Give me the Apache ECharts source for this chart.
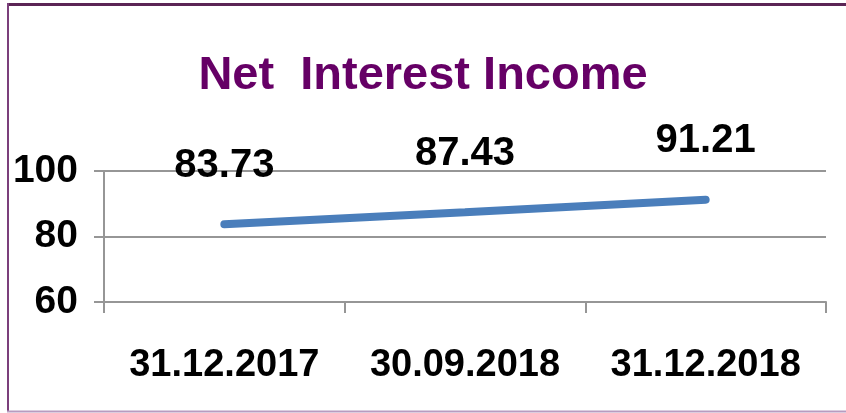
<!DOCTYPE html>
<html>
<head>
<meta charset="utf-8">
<script src="https://cdn.jsdelivr.net/npm/echarts@6/dist/echarts.min.js"></script>
<style>
	html, body { margin: 0; padding: 0; background: #fff; }
	#chart { width: 846px; height: 413px; }
</style>
</head>
<body>
<div id="chart"></div>
<script>
var categories = ['31.12.2017', '30.09.2018', '31.12.2018'];
var incomeValues = [83.73, 87.43, 91.21];
var yTicks = [60, 80, 100];

var fontName = "'Liberation Sans Narrow', 'Liberation Sans', sans-serif";
var fontWeight = 'bold condensed';
var gridColor = '#969696';

window.onload = function() {
	var chart = echarts.init(document.getElementById('chart'));
	var option = {
		animation: false,
		title: {
			text: 'Net  Interest Income',
			left: 'center',
			top: 48,
			textStyle: {
				fontFamily: fontName,
				fontSize: 47,
				fontWeight: fontWeight,
				color: '#660066'
			}
		},
		grid: {
			left: 104,
			right: 20,
			top: 171,
			bottom: 111
		},
		xAxis: {
			type: 'category',
			data: categories,
			boundaryGap: true,
			axisLine: { lineStyle: { color: gridColor, width: 2 } },
			axisTick: { show: true, length: 11, lineStyle: { color: gridColor, width: 2 } },
			axisLabel: {
				interval: 0,
				margin: 45,
				fontFamily: fontName,
				fontSize: 38,
				fontWeight: fontWeight,
				color: '#000'
			}
		},
		yAxis: {
			type: 'value',
			min: yTicks[0],
			max: yTicks[yTicks.length - 1],
			interval: yTicks[1] - yTicks[0],
			axisLine: { show: true, lineStyle: { color: gridColor, width: 2 } },
			axisTick: { show: true, length: 10, lineStyle: { color: gridColor, width: 2 } },
			splitLine: { show: true, lineStyle: { color: gridColor, width: 2 } },
			axisLabel: {
				margin: 26,
				fontFamily: fontName,
				fontSize: 39,
				fontWeight: fontWeight,
				color: '#000'
			}
		},
		series: [{
			name: 'Net Interest Income',
			type: 'line',
			data: incomeValues,
			symbol: 'circle',
			symbolSize: 1,
			showSymbol: true,
			itemStyle: { color: '#4A7EBB' },
			lineStyle: { color: '#4A7EBB', width: 8, cap: 'round' },
			label: {
				show: true,
				position: 'top',
				distance: 38,
				fontFamily: fontName,
				fontSize: 40,
				fontWeight: fontWeight,
				color: '#000'
			}
		}],
		graphic: [
			{ type: 'line', shape: { x1: 7, y1: 4.5, x2: 846, y2: 4.5 }, style: { stroke: '#5B2455', lineWidth: 3 } },
			{ type: 'line', shape: { x1: 8, y1: 3, x2: 8, y2: 412 }, style: { stroke: '#7B3F7B', lineWidth: 2 } },
			{ type: 'line', shape: { x1: 7, y1: 411.5, x2: 846, y2: 411.5 }, style: { stroke: '#B89BC0', lineWidth: 2 } }
		]
	};
	chart.setOption(option);
};
</script>
</body>
</html>
